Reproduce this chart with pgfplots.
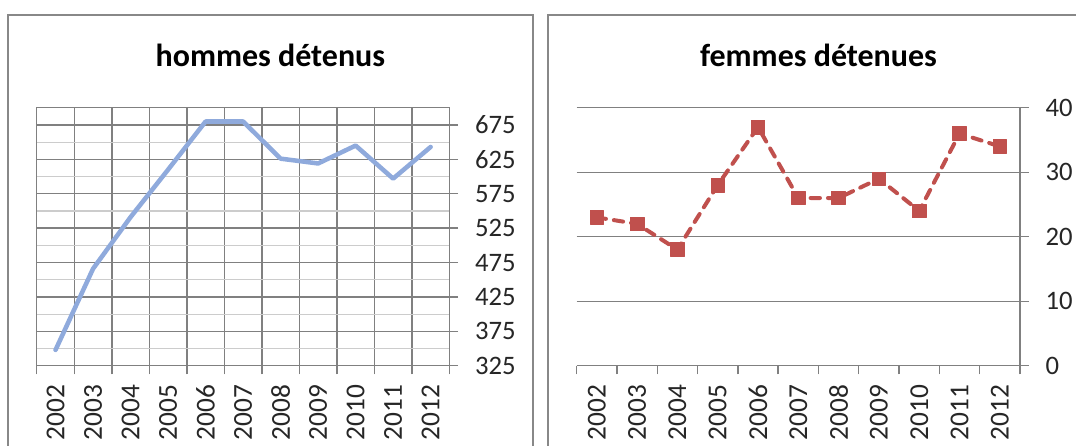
\documentclass[border=0pt]{standalone}
\usepackage{fontspec}
\setmainfont{Carlito}
\usepackage{pgfplots}
\pgfplotsset{compat=1.18}
\definecolor{menblue}{HTML}{8FAADC}
\definecolor{womenred}{HTML}{C0504D}
\definecolor{gridgray}{HTML}{808080}
\definecolor{lightgrid}{HTML}{CCCCCC}
\definecolor{framegray}{HTML}{888888}
\definecolor{labeltext}{HTML}{262626}

\pgfplotsset{
  detenus/.style={
    anchor=south west,
    scale only axis,
    height=193.5pt,
    xmin=0.5, xmax=11.5,
    xtick={1,...,11},
    xticklabels={2002,2003,2004,2005,2006,2007,2008,2009,2010,2011,2012},
    minor xtick={0.5,1.5,...,11.5},
    tick align=outside,
    major tick length=6.5pt,
    minor tick length=6.5pt,
    major x tick style={draw=none},
    minor x tick style={draw=gridgray, line width=1.05pt},
    major y tick style={draw=gridgray, line width=1.05pt},
    axis line style={draw=gridgray, line width=1.05pt},
    xtick pos=bottom,
    ytick pos=right,
    yticklabel pos=right,
    xticklabel shift=7.5pt,
    xticklabel style={rotate=90, anchor=east, inner sep=0pt,
      font=\fontsize{20.5}{24}\selectfont, text=labeltext},
    yticklabel style={anchor=west, inner sep=0pt, xshift=12.5pt,
      font=\fontsize{20}{24}\selectfont, text=labeltext},
    /pgf/number format/assume math mode=true,
    clip=false,
  }
}

\begin{document}
\begin{tikzpicture}
\useasboundingbox (0,0) rectangle (807pt,334.5pt);
\clip (0,0) rectangle (807pt,334.5pt);

% cadres des deux graphiques
\draw[framegray, line width=1.5pt] (6pt,-10pt) rectangle (399.75pt,323.25pt);
\draw[framegray, line width=1.5pt] (411pt,-10pt) rectangle (830pt,323.25pt);

% hommes
\begin{axis}[
  detenus,
  at={(27.6pt,60.2pt)},
  width=309.45pt,
  ymin=325, ymax=700,
  ytick={325,375,...,675},
  minor ytick={350,400,...,700},
  minor y tick style={draw=none},
  xminorgrids=true,
  ymajorgrids=true,
  yminorgrids=true,
  minor x grid style={draw=gridgray, line width=1.05pt},
  major y grid style={draw=gridgray, line width=1.05pt},
  minor y grid style={draw=lightgrid, line width=0.9pt},
]
\addplot[menblue, line width=3.4pt, line join=round, line cap=round] coordinates {
  (1,348) (2,466) (3,541) (4,610) (5,680) (6,680)
  (7,626) (8,619) (9,645) (10,597) (11,643)
};
\end{axis}

% femmes
\begin{axis}[
  detenus,
  at={(432.45pt,60.2pt)},
  width=332.55pt,
  ymin=0, ymax=40,
  ytick={0,10,...,40},
  axis x line*=bottom,
  axis y line*=right,
  ymajorgrids=true,
  major y grid style={draw=gridgray, line width=1.05pt},
]
\addplot[womenred, line width=3pt, line cap=round, line join=round,
  dash pattern=on 7pt off 6pt,
  mark=square*, mark size=5.1pt,
  mark options={solid, fill=womenred, draw=womenred, line width=0.5pt}] coordinates {
  (1,23) (2,22) (3,18) (4,28) (5,37) (6,26)
  (7,26) (8,29) (9,24) (10,36) (11,34)
};
\end{axis}

\node[anchor=base, font=\fontsize{24}{28}\selectfont\bfseries] at (202.8pt,284.5pt) {hommes détenus};
\node[anchor=base, font=\fontsize{24}{28}\selectfont\bfseries] at (613.9pt,284.5pt) {femmes détenues};
\end{tikzpicture}
\end{document}
